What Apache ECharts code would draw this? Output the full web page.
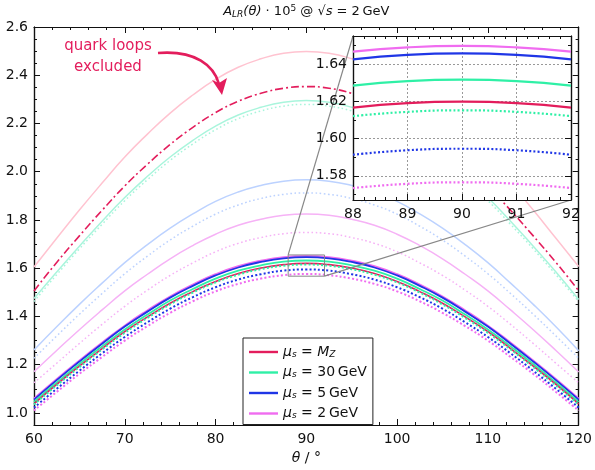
<!DOCTYPE html>
<html>
<head>
<meta charset="utf-8">
<script src="https://cdn.jsdelivr.net/npm/echarts@6/dist/echarts.min.js"></script>
<style>
  html, body { margin: 0; padding: 0; background: #fff; }
  #main { width: 595px; height: 470px; }
</style>
</head>
<body>
<div id="main"></div>
<script>
// angles of the main panel
const theta = [60, 62.5, 65, 67.5, 70, 72.5, 75, 77.5, 80, 82.5, 85, 87.5, 90,
  92.5, 95, 97.5, 100, 102.5, 105, 107.5, 110, 112.5, 115, 117.5, 120];
// faint curves
const pinkLight = [1.605, 1.724, 1.841, 1.953, 2.061, 2.156, 2.243, 2.318, 2.383, 2.433, 2.468, 2.491, 2.498,
  2.491, 2.468, 2.433, 2.383, 2.318, 2.243, 2.156, 2.061, 1.953, 1.841, 1.724, 1.607];
const quarkExcl = [1.506, 1.624, 1.734, 1.840, 1.941, 2.031, 2.113, 2.184, 2.245, 2.292, 2.325, 2.346, 2.353,
  2.346, 2.325, 2.292, 2.245, 2.184, 2.113, 2.031, 1.941, 1.840, 1.734, 1.624, 1.507];
const tealLight = [1.474, 1.584, 1.691, 1.795, 1.893, 1.981, 2.061, 2.130, 2.189, 2.235, 2.267, 2.288, 2.295,
  2.288, 2.267, 2.235, 2.189, 2.130, 2.061, 1.981, 1.893, 1.795, 1.691, 1.584, 1.470];
const tealLightDot = [1.462, 1.573, 1.680, 1.782, 1.880, 1.967, 2.047, 2.115, 2.174, 2.220, 2.252, 2.272, 2.279,
  2.272, 2.252, 2.220, 2.174, 2.115, 2.047, 1.967, 1.880, 1.782, 1.680, 1.573, 1.462];
const blueLight = [1.261, 1.357, 1.450, 1.538, 1.623, 1.698, 1.766, 1.825, 1.877, 1.916, 1.943, 1.961, 1.967,
  1.961, 1.943, 1.916, 1.877, 1.825, 1.766, 1.698, 1.623, 1.538, 1.450, 1.357, 1.258];
const blueLightDot = [1.227, 1.319, 1.409, 1.495, 1.577, 1.650, 1.717, 1.774, 1.824, 1.862, 1.889, 1.906, 1.912,
  1.906, 1.889, 1.862, 1.824, 1.774, 1.717, 1.650, 1.577, 1.495, 1.409, 1.319, 1.227];
const violetLight = [1.171, 1.259, 1.345, 1.427, 1.506, 1.575, 1.639, 1.694, 1.741, 1.778, 1.803, 1.820, 1.825,
  1.820, 1.803, 1.778, 1.741, 1.694, 1.639, 1.575, 1.506, 1.427, 1.345, 1.259, 1.170];
const violetLightDot = [1.125, 1.206, 1.288, 1.367, 1.442, 1.509, 1.570, 1.622, 1.668, 1.703, 1.727, 1.743, 1.748,
  1.743, 1.727, 1.703, 1.668, 1.622, 1.570, 1.509, 1.442, 1.367, 1.288, 1.206, 1.125];
// bold cluster
const magMain = [1.058, 1.139, 1.216, 1.290, 1.361, 1.424, 1.482, 1.531, 1.574, 1.607, 1.630, 1.645, 1.650,
  1.645, 1.630, 1.607, 1.574, 1.531, 1.482, 1.424, 1.361, 1.290, 1.216, 1.139, 1.058];
const blueMain = [1.055, 1.136, 1.213, 1.287, 1.358, 1.420, 1.478, 1.527, 1.570, 1.603, 1.626, 1.641, 1.646,
  1.641, 1.626, 1.603, 1.570, 1.527, 1.478, 1.420, 1.358, 1.287, 1.213, 1.136, 1.055];
const greenMain = [1.046, 1.126, 1.203, 1.276, 1.346, 1.408, 1.466, 1.514, 1.557, 1.590, 1.612, 1.627, 1.632,
  1.627, 1.612, 1.590, 1.557, 1.514, 1.466, 1.408, 1.346, 1.276, 1.203, 1.126, 1.046];
const redMain = [1.038, 1.118, 1.194, 1.267, 1.337, 1.398, 1.455, 1.503, 1.545, 1.578, 1.601, 1.615, 1.620,
  1.615, 1.601, 1.578, 1.545, 1.503, 1.455, 1.398, 1.337, 1.267, 1.194, 1.118, 1.038];
const greenDotMain = [1.035, 1.114, 1.190, 1.263, 1.332, 1.394, 1.450, 1.499, 1.541, 1.573, 1.596, 1.610, 1.615,
  1.610, 1.596, 1.573, 1.541, 1.499, 1.450, 1.394, 1.332, 1.263, 1.190, 1.114, 1.035];
const blueDotMain = [1.022, 1.100, 1.175, 1.247, 1.315, 1.376, 1.432, 1.480, 1.521, 1.553, 1.575, 1.590, 1.5945,
  1.590, 1.575, 1.553, 1.521, 1.480, 1.432, 1.376, 1.315, 1.247, 1.175, 1.100, 1.022];
const magDotMain = [1.010, 1.087, 1.162, 1.232, 1.300, 1.360, 1.415, 1.463, 1.504, 1.535, 1.557, 1.571, 1.576,
  1.571, 1.557, 1.535, 1.504, 1.463, 1.415, 1.360, 1.300, 1.232, 1.162, 1.087, 1.010];

// inset
const thetaZoom = [88, 89, 90, 91, 92];
const magZoom = [1.6466, 1.6489, 1.6497, 1.6489, 1.6466];
const blueZoom = [1.6425, 1.6449, 1.6457, 1.6449, 1.6425];
const greenZoom = [1.6284, 1.6308, 1.6316, 1.6308, 1.6284];
const redZoom = [1.6166, 1.6190, 1.6198, 1.6190, 1.6166];
const greenDotZoom = [1.6120, 1.6143, 1.6151, 1.6143, 1.6120];
const blueDotZoom = [1.5913, 1.5937, 1.5945, 1.5937, 1.5913];
const magDotZoom = [1.5734, 1.5757, 1.5765, 1.5757, 1.5734];

// ticks
const mainYMajor = [1.0, 1.2, 1.4, 1.6, 1.8, 2.0, 2.2, 2.4, 2.6];
const zoomYMajor = [1.58, 1.60, 1.62, 1.64];
const zoomYMinor = [1.57, 1.59, 1.61, 1.63, 1.65];
const zoomX = [88, 92];
const zoomY = [1.567, 1.655];

const legendNames = ['MZ', '30GeV', '5GeV', '2GeV'];
const legendLabels = {
  MZ: '{it|μ}{sub|s} = {it|M}{sub|Z}',
  '30GeV': '{it|μ}{sub|s} = 30\u2009GeV',
  '5GeV': '{it|μ}{sub|s} = 5\u2009GeV',
  '2GeV': '{it|μ}{sub|s} = 2\u2009GeV'
};

const RED = '#e31d5c', GREEN = '#2ff0a6', BLUE = '#1f36e6', MAG = '#f06cf0';
const FONT = 'DejaVu Sans';

function zip(xs, ys) {
  return xs.map((x, i) => [x, ys[i]]);
}

function line(name, xs, ys, color, width, dash, xi, yi, z) {
  return {
    name: name,
    type: 'line',
    xAxisIndex: xi,
    yAxisIndex: yi,
    data: zip(xs, ys),
    smooth: true,
    symbol: 'none',
    silent: true,
    z: z,
    itemStyle: { color: color },
    lineStyle: { color: color, width: width, type: dash || 'solid', cap: 'butt' }
  };
}

const DOT = [2, 2.2];
const LDOT = [1.6, 2.6];

const tickLabel = { color: '#111', fontSize: 14, fontFamily: FONT };

function xAx(grid, pos, min, max, interval, labels, extra) {
  return Object.assign({
    type: 'value', gridIndex: grid, position: pos, min: min, max: max, interval: interval,
    axisLine: { show: true, onZero: false, lineStyle: { color: '#111', width: 1.2 } },
    axisTick: { show: true, inside: true, length: 6, lineStyle: { color: '#111' } },
    minorTick: { show: true, splitNumber: 5, length: 3, lineStyle: { color: '#111' } },
    axisLabel: Object.assign({ show: labels, margin: 7 }, tickLabel),
    splitLine: { show: false }
  }, extra || {});
}

function yAx(grid, pos, min, max, major, labels, extra) {
  return Object.assign({
    type: 'value', gridIndex: grid, position: pos, min: min, max: max,
    axisLine: { show: true, onZero: false, lineStyle: { color: '#111', width: 1.2 } },
    axisTick: { show: true, inside: true, length: major ? 6 : 3, lineStyle: { color: '#111' } },
    axisLabel: Object.assign({ show: labels, margin: 6 }, tickLabel),
    splitLine: { show: false }
  }, extra || {});
}

const chart = echarts.init(document.getElementById('main'));

const option = {
  animation: false,
  backgroundColor: '#fff',
  grid: [
    { left: 34, right: 13, top: 27, bottom: 34 },
    { left: 353, top: 36, width: 218, height: 164 }
  ],
  xAxis: [
    xAx(0, 'bottom', 60, 120, 10, true, {
      name: '{it|θ} / °', nameLocation: 'middle', nameGap: 26,
      nameTextStyle: { color: '#111', fontSize: 14, fontFamily: FONT,
        rich: { it: { fontStyle: 'italic', fontSize: 14, fontFamily: FONT } } }
    }),
    xAx(0, 'top', 60, 120, 10, false),
    xAx(1, 'bottom', zoomX[0], zoomX[1], 1, true, {
      z: 4,
      splitLine: { show: true, lineStyle: { color: '#999', type: [2, 2], width: 1 } }
    }),
    xAx(1, 'top', zoomX[0], zoomX[1], 1, false, { z: 4 })
  ],
  yAxis: [
    // main: minor left, major left, minor right, major right
    yAx(0, 'left', 0.95, 2.6, false, false, { interval: 0.05 }),
    yAx(0, 'left', 0.95, 2.6, true, true, {
      axisTick: { show: true, inside: true, length: 6, customValues: mainYMajor, lineStyle: { color: '#111' } },
      axisLabel: Object.assign({ show: true, margin: 6, customValues: mainYMajor,
        formatter: v => v.toFixed(1) }, tickLabel)
    }),
    yAx(0, 'right', 0.95, 2.6, false, false, { interval: 0.05 }),
    yAx(0, 'right', 0.95, 2.6, true, false, {
      axisTick: { show: true, inside: true, length: 6, customValues: mainYMajor, lineStyle: { color: '#111' } }
    }),
    // inset
    yAx(1, 'left', zoomY[0], zoomY[1], false, false, {
      z: 4,
      axisTick: { show: true, inside: true, length: 3, customValues: zoomYMinor, lineStyle: { color: '#111' } }
    }),
    yAx(1, 'left', zoomY[0], zoomY[1], true, true, {
      z: 4,
      axisTick: { show: true, inside: true, length: 6, customValues: zoomYMajor, lineStyle: { color: '#111' } },
      axisLabel: Object.assign({ show: true, margin: 6, customValues: zoomYMajor,
        formatter: v => v.toFixed(2) }, tickLabel),
      splitLine: { show: true, lineStyle: { color: '#999', type: [2, 2], width: 1 } }
    }),
    yAx(1, 'right', zoomY[0], zoomY[1], false, false, {
      z: 4,
      axisTick: { show: true, inside: true, length: 3, customValues: zoomYMinor, lineStyle: { color: '#111' } }
    }),
    yAx(1, 'right', zoomY[0], zoomY[1], true, false, {
      z: 4,
      axisTick: { show: true, inside: true, length: 6, customValues: zoomYMajor, lineStyle: { color: '#111' } }
    })
  ],
  legend: {
    data: legendNames,
    orient: 'vertical',
    left: 243,
    top: 338,
    padding: [7, 6, 4, 6],
    itemGap: 6.5,
    icon: 'rect',
    itemWidth: 29,
    itemHeight: 2.4,
    borderColor: '#222',
    borderWidth: 1,
    borderRadius: 0,
    backgroundColor: '#fff',
    selectedMode: false,
    formatter: n => legendLabels[n],
    textStyle: {
      color: '#111', fontSize: 14, fontFamily: FONT, lineHeight: 14,
      rich: {
        it: { fontStyle: 'italic', fontSize: 14, fontFamily: FONT, color: '#111' },
        sub: { fontStyle: 'italic', fontSize: 9, fontFamily: FONT, color: '#111', verticalAlign: 'bottom', padding: [6, 0, 0, 0] }
      }
    }
  },
  series: [
    line('pl', theta, pinkLight, '#ffc3d0', 1.5, null, 0, 1, 2),
    line('tl', theta, tealLight, '#a9f5dc', 1.5, null, 0, 1, 2),
    line('tld', theta, tealLightDot, '#a9f5dc', 1.5, LDOT, 0, 1, 2),
    line('bl', theta, blueLight, '#bcd2ff', 1.5, null, 0, 1, 2),
    line('bld', theta, blueLightDot, '#bcd2ff', 1.5, LDOT, 0, 1, 2),
    line('vl', theta, violetLight, '#f6b2f6', 1.5, null, 0, 1, 2),
    line('vld', theta, violetLightDot, '#f6b2f6', 1.5, LDOT, 0, 1, 2),
    line('qe', theta, quarkExcl, RED, 1.6, [8, 3, 2, 3], 0, 1, 2),
    line('2GeV', theta, magMain, MAG, 2.4, null, 0, 1, 2),
    line('5GeV', theta, blueMain, BLUE, 1.8, null, 0, 1, 2),
    line('30GeV', theta, greenMain, GREEN, 1.8, null, 0, 1, 2),
    line('MZ', theta, redMain, RED, 1.6, null, 0, 1, 2),
    line('gd', theta, greenDotMain, GREEN, 2, DOT, 0, 1, 2),
    line('bd', theta, blueDotMain, BLUE, 2, DOT, 0, 1, 2),
    line('md', theta, magDotMain, MAG, 2, DOT, 0, 1, 2),
    // inset
    line('z2', thetaZoom, magZoom, MAG, 2.2, null, 2, 5, 5),
    line('z5', thetaZoom, blueZoom, BLUE, 2.2, null, 2, 5, 5),
    line('z30', thetaZoom, greenZoom, GREEN, 2.2, null, 2, 5, 5),
    line('zMZ', thetaZoom, redZoom, RED, 2.2, null, 2, 5, 5),
    line('zgd', thetaZoom, greenDotZoom, GREEN, 2.2, DOT, 2, 5, 5),
    line('zbd', thetaZoom, blueDotZoom, BLUE, 2.2, DOT, 2, 5, 5),
    line('zmd', thetaZoom, magDotZoom, MAG, 2.2, DOT, 2, 5, 5)
  ]
};

chart.setOption(option);

// zoom box, inset background, connectors and annotation
const mainF = { xAxisIndex: 0, yAxisIndex: 1 };
const zoomF = { xAxisIndex: 2, yAxisIndex: 5 };
const rTL = chart.convertToPixel(mainF, [zoomX[0], zoomY[1]]);
const rBR = chart.convertToPixel(mainF, [zoomX[1], zoomY[0]]);
const iTL = chart.convertToPixel(zoomF, [zoomX[0], zoomY[1]]);
const iBR = chart.convertToPixel(zoomF, [zoomX[1], zoomY[0]]);
const titleX = (chart.convertToPixel(mainF, [60, 1])[0] + chart.convertToPixel(mainF, [120, 1])[0]) / 2;

chart.setOption({
  graphic: [
    {
      type: 'rect', z: 3, silent: true,
      shape: { x: rTL[0], y: rTL[1], width: rBR[0] - rTL[0], height: rBR[1] - rTL[1] },
      style: { fill: null, stroke: '#888', lineWidth: 1 }
    },
    {
      type: 'line', z: 3, silent: true,
      shape: { x1: rTL[0], y1: rTL[1], x2: iTL[0], y2: iTL[1] },
      style: { stroke: '#888', lineWidth: 1.2 }
    },
    {
      type: 'line', z: 3, silent: true,
      shape: { x1: rBR[0], y1: rBR[1], x2: iBR[0], y2: iBR[1] },
      style: { stroke: '#888', lineWidth: 1.2 }
    },
    {
      type: 'rect', z: 3.5, silent: true,
      shape: { x: iTL[0], y: iTL[1], width: iBR[0] - iTL[0], height: iBR[1] - iTL[1] },
      style: { fill: '#fff' }
    },
    {
      type: 'text', z: 10, silent: true,
      style: {
        x: titleX, y: 12, align: 'center', verticalAlign: 'middle',
        text: '{it|A}{sub|LR}{it|(θ)} · 10{sup|5} @ √{it|s} = 2\u2009GeV',
        fill: '#111', fontSize: 13, fontFamily: FONT,
        rich: {
          it: { fontStyle: 'italic', fontSize: 13, fontFamily: FONT, fill: '#111' },
          sub: { fontStyle: 'italic', fontSize: 9, fontFamily: FONT, fill: '#111', verticalAlign: 'bottom', padding: [6, 0, 0, 0] },
          sup: { fontSize: 9, fontFamily: FONT, fill: '#111', verticalAlign: 'top', padding: [0, 0, 6, 0] }
        }
      }
    },
    {
      type: 'text', z: 10, silent: true,
      style: {
        x: 108, y: 57, align: 'center', verticalAlign: 'middle',
        text: 'quark loops\nexcluded', lineHeight: 21,
        fill: RED, fontSize: 15, fontFamily: FONT
      }
    },
    {
      type: 'bezierCurve', z: 10, silent: true,
      shape: { x1: 158, y1: 53, cpx1: 196, cpy1: 50, cpx2: 214, cpy2: 66, x2: 219, y2: 84 },
      style: { stroke: RED, lineWidth: 2.6, fill: null }
    },
    {
      type: 'polygon', z: 10, silent: true,
      shape: { points: [[222, 95], [212, 80], [219, 83], [227, 78]] },
      style: { fill: RED }
    }
  ]
});
</script>
</body>
</html>
